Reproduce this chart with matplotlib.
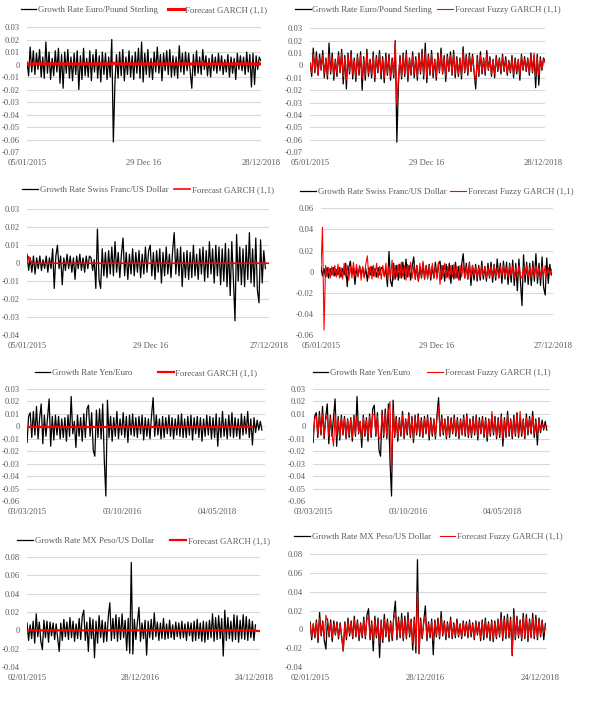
import numpy as np
import matplotlib
matplotlib.use('Agg')
import matplotlib.pyplot as plt
from matplotlib.ticker import FuncFormatter

plt.rcParams['font.family'] = ['Liberation Serif', 'DejaVu Serif']
plt.rcParams['text.color'] = '#595959'
plt.rcParams['xtick.color'] = '#595959'
plt.rcParams['ytick.color'] = '#595959'

# daily growth rates, in thousandths, 150 samples each
eur_gbp = [2, -9, 14, -6, 11, -8, 9, -4, 12, -10,
           6, -11, 18, -7, 10, -12, 5, -9, 11, -6,
           13, -15, 8, -19, 10, -7, 12, -11, 6, -13,
           9, -8, 11, -20, 7, -12, 13, -9, 5, -10,
           11, -13, 8, -6, 12, -11, 7, -14, 10, -8,
           9, -12, 6, -10, 20, -62, -15, 8, -11, 10,
           -9, 12, -13, 6, -8, 11, -10, 7, -12, 10,
           -7, 13, -11, 18, -14, 9, -8, 12, -10, 5,
           -12, 10, -6, 14, -7, 8, -13, 9, -5, 11,
           -8, 12, -10, 7, -9, 6, -11, 15, -6, 9,
           -8, 10, -5, 9, -6, -19, 8, -9, 11, -7,
           6, -8, 12, -4, 7, -9, 5, -10, 8, -5,
           6, -7, 9, -5, 7, -8, 4, -6, 8, -10,
           6, -7, 5, -12, 9, -4, 7, -5, 6, -8,
           10, -6, 8, -18, 9, -16, 7, -4, 6, 3]
eur_gbp_fuzzy = [1, -6, 9, -4, 7, -8, 6, -3, 8, -7,
                 5, -8, 9, -5, 7, -9, 4, -6, 8, -5,
                 10, -9, 6, -12, 8, -5, 9, -7, 4, -10,
                 7, -6, 8, -11, 5, -8, 10, -6, 4, -7,
                 8, -10, 6, -5, 9, -8, 5, -10, 7, -6,
                 7, -9, 5, -8, 20, -32, -10, 6, -9, 8,
                 -7, 9, -10, 5, -6, 8, -7, 5, -9, 8,
                 -5, 10, -8, 11, -9, 7, -6, 9, -7, 4,
                 -9, 8, -5, 10, -6, 6, -9, 7, -4, 8,
                 -6, 9, -7, 5, -7, 5, -8, 11, -5, 7,
                 -6, 8, -4, 7, -5, -13, 6, -7, 8, -5,
                 5, -6, 9, -3, 5, -7, 4, -7, 6, -4,
                 5, -5, 7, -4, 5, -6, 3, -5, 6, -7,
                 4, -5, 4, -8, 7, -3, 5, -4, 5, -6,
                 8, -5, 10, -9, 6, -8, 5, -3, 5, 2]
eur_gbp_garch_day = [0, 50, 54, 55, 57, 149]
eur_gbp_garch = [0.5, 0.5, 0.6, 1.2, 0.5, 0.5]

chf_usd = [5, -4, 3, -5, 4, -6, 3, -3, 4, -4,
           2, -3, 4, -5, 3, -3, 8, -14, 4, 10,
           -3, 4, -12, 3, -4, 5, -3, 4, -5, 3,
           -9, 4, -3, 5, -4, 3, -5, 4, -3, 4,
           3, -4, 2, -14, 19, -9, -14, 8, -7, 6,
           -8, 7, -6, 9, -7, 12, -5, 6, -8, 5,
           14, -7, 6, -9, 5, -6, 8, -7, 6, -5,
           7, -8, 5, -6, 9, -5, 7, 10, -7, 6,
           -9, 7, -5, 8, -11, 6, -7, 9, -6, 5,
           -8, 7, 17, -6, 8, -7, 9, -13, 6, -8,
           7, -9, 6, -8, 10, -7, 5, -9, 8, -6,
           9, -10, 7, -8, 12, -6, 8, -11, 10, -7,
           9, -12, 8, -10, 11, -13, 8, -18, 12, -9,
           -32, 16, -10, 9, -12, 8, -13, 10, -9, 17,
           -11, 8, -13, 14, -15, -22, 13, -11, 7, -3]
chf_usd_fuzzy = [2, 42, -55, 6, -5, 4, -6, 5, -4, 6,
                 -5, 7, -6, 4, -7, 8, -5, 6, -8, 5,
                 -6, 9, -4, 7, -5, 6, -8, 5, -6, 7,
                 15, -6, 5, -7, 6, -5, 8, -6, 5, -7,
                 6, -5, 8, -7, 5, -6, 11, -8, 6, -5,
                 7, -6, 9, -5, 6, -8, 7, -5, 9, -6,
                 5, -7, 6, -9, 8, -5, 10, -6, 5, -7,
                 6, -5, 8, -6, 5, -7, 9, -12, 6, -5,
                 8, -6, 5, -7, 6, -5, 7, -6, 5, -8,
                 6, -5, 7, -6, 5, -7, 8, -5, 6, -4,
                 5, -6, 4, -5, 6, -4, 5, -6, 4, -5,
                 5, -4, 6, -5, 4, -6, 5, -4, 6, -5,
                 4, -5, 6, -4, 5, -6, 4, -5, 6, -4,
                 -6, 5, -4, 6, -5, 4, -6, 5, -4, 6,
                 -5, 4, -6, 5, -4, 6, -5, 4, -3, 2]
chf_usd_garch_day = [0, 1, 3, 151]
chf_usd_garch = [0.0, 3.6, 0.0, 0.0]

jpy_eur = [-13, 8, 11, -9, 12, -7, 16, -10, 7, 18,
           -14, 9, -8, 7, 22, -16, 8, -11, 9, -7,
           8, -10, 6, -9, 7, -12, 9, -8, 24, -6,
           4, -17, 9, -8, 7, -12, 10, -9, 14, 17,
           -8, 11, -19, -24, 13, -9, 14, -10, 18, -27,
           -56, 21, -9, 8, -12, 7, -8, 12, -10, 6,
           -7, 11, -9, 8, -13, 9, -7, 10, -8, 7,
           -9, 8, -6, 9, -11, 7, -8, 6, -10, 9,
           23, -8, 9, -7, 6, -10, 8, -9, 7, -6,
           9, -8, 7, -10, 6, -7, 9, -8, 10, -9,
           6, -9, 8, -7, 9, -11, 7, -6, 8, -9,
           7, -12, 6, -8, 9, -7, 8, -10, 7, -9,
           10, -16, 7, -9, 12, -8, 6, -10, 9, -8,
           11, -9, 7, -8, 6, -10, 10, -7, 8, -6,
           12, -9, 6, -15, 7, -5, 5, -3, 4, -3]
jpy_eur_fuzzy = [-10, 6, 8, -7, 9, -6, 10, -8, 5, 9,
                 -8, 7, -6, -16, 10, -7, 6, -9, 7, -5,
                 6, -8, 5, -7, 6, -9, 7, -6, 8, -5,
                 4, -10, 7, -6, 5, -9, 8, -7, 10, 9,
                 -6, 8, -10, -9, 10, -7, 11, -8, 12, 20,
                 -36, 14, -7, 6, -9, 5, -6, 9, -8, 5,
                 -5, 9, -7, 6, -10, 7, -5, 8, -6, 5,
                 -7, 6, -5, 7, -8, 5, -6, 5, -8, 7,
                 16, -6, 7, -5, 5, -8, 6, -7, 5, -5,
                 7, -6, 5, -8, 5, -6, 7, -6, 8, -7,
                 5, -7, 6, -5, 7, -8, 5, -5, 6, -7,
                 5, -9, 5, -6, 12, -5, 6, -8, 5, -7,
                 8, -10, 5, -7, 9, -6, 5, -8, 7, -6,
                 9, -7, 12, -6, 5, -8, 7, -5, 6, -4,
                 8, -6, 4, -7, 5, -3, 2, -2, 1, 0]
jpy_eur_garch_day = [0, 143]
jpy_eur_garch = [-0.4, -0.4]

mxn_usd = [8, -11, 6, -9, 10, -14, 18, -7, 9, -12,
           -21, 11, -8, 10, -13, 9, -6, 8, -10, 7,
           -9, -23, 8, -11, 12, -7, 9, -10, 14, -8,
           10, -12, 7, -9, 13, -10, 15, 22, -11, 9,
           -23, 14, -9, 12, -30, 10, -14, 16, -8, 11,
           -13, 9, -12, 15, 30, -11, 13, -9, 17, -12,
           14, -10, 18, -8, 11, -22, 13, -25, 74, -26,
           12, -10, 9, 25, -12, 8, -9, 11, -27, 10,
           -8, 12, -10, 19, -7, 9, -11, 8, -9, 13,
           -10, 7, -9, 11, -8, 6, -10, 9, -7, 8,
           -9, 10, -8, 7, -11, 9, -6, 8, -12, 10,
           -11, 12, -9, 8, -12, 10, -13, 9, -10, 11,
           -8, 18, -12, 14, -10, 16, -9, 13, -28, 22,
           -11, 14, -9, 10, -12, 17, -10, 16, -13, 11,
           -9, 17, -10, 15, -11, 12, -8, 10, -11, 6]
mxn_usd_fuzzy = [6, -8, 5, -7, 8, -10, 12, -6, 7, -9,
                 15, 8, -6, 7, -9, 6, -5, 6, -8, 5,
                 -7, -23, 6, -8, 9, -5, 7, -8, 10, -6,
                 8, -9, 6, -7, 10, -8, 11, 13, -9, 7,
                 -12, 10, -7, 9, -15, 8, -10, 11, -6, 8,
                 -10, 7, -9, 12, 16, -8, 10, -7, 12, -9,
                 10, -8, 13, -6, 9, -14, 10, -18, 40, -25,
                 9, -8, 7, 15, -9, 6, -7, 8, -12, 8,
                 -6, 9, -8, 12, -5, 7, -8, 6, -7, 10,
                 -8, 5, -7, 8, -6, 5, -8, 7, -5, 6,
                 -7, 8, -6, 5, -9, 7, -5, 6, -9, 8,
                 -8, 9, -7, 6, -9, 8, -10, 7, -8, 9,
                 -6, 13, -9, 10, -8, 12, -7, 10, -27, 16,
                 -9, 11, -7, 8, -10, 13, -8, 12, -10, 9,
                 -7, 12, -8, 11, -9, 10, -6, 8, -4, 2]
mxn_usd_garch_day = [0, 148, 150, 152]
mxn_usd_garch = [0.0, 0.0, -0.6, -0.9]

fig = plt.figure(figsize=(6.01, 7.24), dpi=100)


def draw(rect, growth, red, red_day, pair, fuzzy, ylim, ystep, xmax,
         tick_pos, tick_lab, red_lw, colsp, leg_y):
    ax = fig.add_axes(rect)
    g = np.array(growth) / 1000.0
    ax.plot(np.arange(len(g)), g, color='black', lw=0.9,
            label='Growth Rate ' + pair)
    r = np.array(red) / 1000.0
    if fuzzy:
        ax.plot(np.arange(len(r)), r, color='#ff0000', lw=0.8,
                label='Forecast Fuzzy GARCH (1,1)')
    else:
        ax.plot(red_day, r, color='#ff0000', lw=red_lw,
                label='Forecast GARCH (1,1)')
    ax.set_ylim(*ylim)
    ax.set_xlim(0, xmax)
    yt = np.round(np.arange(ylim[0], ylim[1] + ystep / 2, ystep), 3)
    ax.set_yticks(yt)
    ax.yaxis.set_major_formatter(
        FuncFormatter(lambda v, p: '0' if abs(v) < 1e-9 else f'{v:.2f}'))
    ax.set_xticks(tick_pos)
    ax.set_xticklabels(tick_lab)
    ax.tick_params(length=0, labelsize=6.1, pad=5)
    ax.yaxis.grid(True, color='#d9d9d9', lw=0.8)
    ax.set_axisbelow(True)
    for s in ax.spines.values():
        s.set_visible(False)
    ax.legend(loc='center', bbox_to_anchor=(0.5, leg_y), ncol=2,
              frameon=False, fontsize=6.3, handlelength=1.8,
              handletextpad=0.2, columnspacing=colsp, borderaxespad=0)
    return ax


ep_dates = ['05/01/2015', '29 Dec 16', '28/12/2018']
chf_dates = ['05/01/2015', '29 Dec 16', '27/12/2018']
jpy_dates = ['03/03/2015', '03/10/2016', '04/05/2018']
mx_dates = ['02/01/2015', '28/12/2016', '24/12/2018']

draw([0.045, 0.790, 0.389, 0.1727], eur_gbp, eur_gbp_garch, eur_gbp_garch_day,
     'Euro/Pound Sterling', False, (-0.07, 0.03), 0.01, 149,
     [0, 74.5, 149], ep_dates, 2.2, 1.15, 1.136)
draw([0.516, 0.790, 0.391, 0.171], eur_gbp, eur_gbp_fuzzy, None,
     'Euro/Pound Sterling', True, (-0.07, 0.03), 0.01, 149,
     [0, 74, 148], ep_dates, 0.8, 0.6, 1.145)
draw([0.045, 0.537, 0.4027, 0.174], chf_usd, chf_usd_garch, chf_usd_garch_day,
     'Swiss Franc/US Dollar', False, (-0.04, 0.03), 0.01, 151.3,
     [0, 77.5, 151.3], chf_dates, 1.2, 0.7, 1.15)
draw([0.534, 0.537, 0.386, 0.1754], chf_usd, chf_usd_fuzzy, None,
     'Swiss Franc/US Dollar', True, (-0.06, 0.06), 0.02, 150,
     [0, 75, 150], chf_dates, 0.8, 0.45, 1.126)
draw([0.045, 0.308, 0.396, 0.1547], jpy_eur, jpy_eur_garch, jpy_eur_garch_day,
     'Yen/Euro', False, (-0.06, 0.03), 0.01, 151,
     [0, 60.4, 120.8], jpy_dates, 1.6, 2.9, 1.143)
draw([0.521, 0.308, 0.394, 0.1547], jpy_eur, jpy_eur_fuzzy, None,
     'Yen/Euro', True, (-0.06, 0.03), 0.01, 151,
     [0, 60.4, 120.8], jpy_dates, 0.8, 1.9, 1.143)
draw([0.045, 0.0787, 0.3877, 0.152], mxn_usd, mxn_usd_garch, mxn_usd_garch_day,
     'MX Peso/US Dollar', False, (-0.04, 0.08), 0.02, 152,
     [0, 74, 148], mx_dates, 1.6, 1.9, 1.145)
draw([0.516, 0.0787, 0.394, 0.156], mxn_usd, mxn_usd_fuzzy, None,
     'MX Peso/US Dollar', True, (-0.04, 0.08), 0.02, 150,
     [0, 73, 146], mx_dates, 0.8, 1.0, 1.15)

fig.savefig('out.png', dpi=100)
